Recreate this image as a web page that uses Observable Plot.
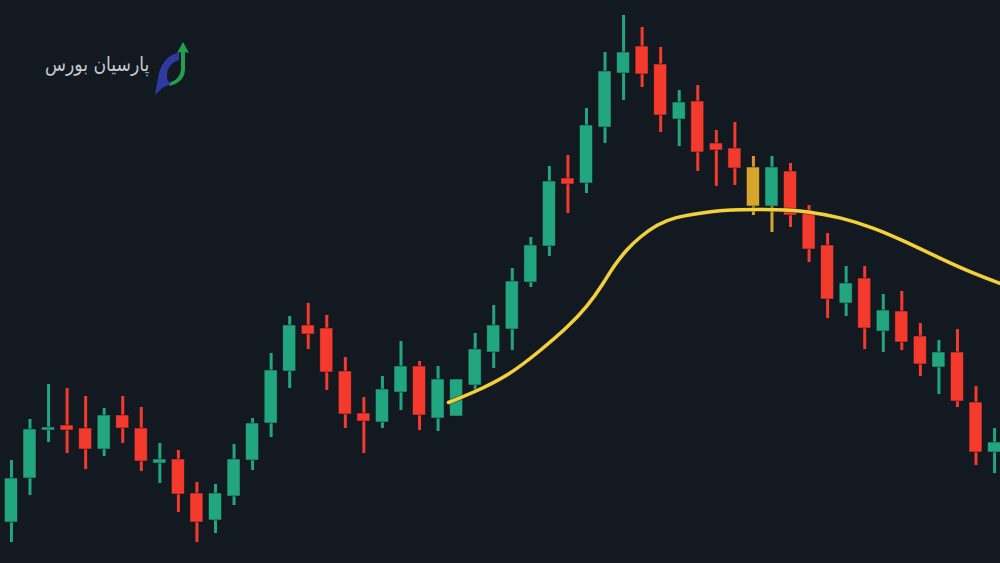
<!DOCTYPE html>
<html>
<head>
<meta charset="utf-8">
<script src="https://cdn.jsdelivr.net/npm/d3@7"></script>
<script src="https://cdn.jsdelivr.net/npm/@observablehq/plot@0.6"></script>
<style>
  html, body { margin: 0; padding: 0; background: #121920; width: 1000px; height: 563px; overflow: hidden; }
  #wrap { position: relative; width: 1000px; height: 563px; }
  #chart svg { display: block; }
  #brand { position: absolute; right: 851px; top: 52px; font-family: "DejaVu Sans", "Noto Sans", sans-serif; font-size: 20px; color: #c6c9cc; direction: rtl; white-space: nowrap; transform: scaleX(0.86); transform-origin: right center; }
  #logo { position: absolute; left: 150px; top: 38px; }
</style>
</head>
<body>
<div id="wrap">
  <div id="chart"></div>
  <div id="brand">پارسیان بورس</div>
  <svg id="logo" width="42" height="60" viewBox="0 0 42 60">
    <path d="M29 15 C18 16 10 26 8 40 L5 57 L11 51 C13 49 18 47 23 46 L18 43 C16 38 17 32 20 28 C22 25 26 23 29 22 Z" fill="#2f3aa0"/>
    <path d="M33 4 L39 15 L35 14 L35 31 C35 40 29 46 19 48 L21 44 C27 42 31 37 31 30 L31 14 L27 15 Z" fill="#1fa14f"/>
  </svg>
</div>
<script>
// Candle index (1..54)
const idx   = d3.range(1, 55);
const open  = [14.1,18.5,23.3,23.8,23.5,21.4,24.8,23.5,20.0,20.4,17.0,14.3,16.7,20.3,24.0,29.2,33.8,33.5,29.2,25.0,24.1,27.1,29.7,24.5,24.7,27.8,31.1,33.4,38.1,41.7,48.5,48.0,53.6,59.0,61.7,59.9,54.4,56.2,52.0,51.5,45.7,45.7,49.2,45.0,41.8,36.0,38.5,33.2,35.2,32.7,29.6,31.1,26.1,21.1];
const close = [18.5,23.4,23.6,23.3,21.4,24.8,23.5,20.2,20.4,16.9,14.1,17.0,20.4,24.0,29.3,33.8,32.9,29.1,24.9,24.2,27.4,29.7,24.8,28.4,28.4,31.4,33.8,38.2,41.8,48.2,47.9,53.8,59.2,61.1,58.9,54.8,56.1,51.1,51.3,49.5,49.6,49.6,44.8,41.4,36.4,38.0,33.5,35.3,32.1,29.9,31.1,26.2,21.1,22.1];
const high  = [20.3,24.4,27.9,27.5,26.7,25.5,26.7,25.6,22.0,21.3,18.1,17.9,21.9,24.5,31.0,34.7,36.0,34.8,30.6,26.6,28.7,32.2,30.2,29.7,28.4,33.0,35.8,39.5,42.6,49.7,50.8,55.5,61.1,64.8,63.6,61.6,57.3,57.8,53.3,54.1,50.7,50.7,50.0,45.8,43.0,39.7,39.7,36.9,37.2,34.0,32.3,33.4,27.7,23.5];
const low   = [12.1,16.8,22.1,21.0,19.4,20.7,22.0,19.2,18.0,15.1,12.1,13.0,15.8,19.3,22.6,27.5,31.4,27.3,23.5,21.0,23.5,25.3,23.3,23.2,24.7,27.3,29.5,31.3,37.6,40.7,45.0,47.0,52.0,56.3,57.6,53.1,51.7,49.2,47.7,47.8,44.8,43.1,43.6,40.1,34.5,34.7,31.4,31.1,31.3,28.7,26.9,25.6,19.8,19.0];
// Highlighted candles (gold)
const goldBody = [41];
const goldLowerWick = [41, 42];
const goldUpperWick = [41];

// Moving-average line (candle position, price)
const maPos   = [24.56, 25.91, 27.74, 29.52, 30.97, 32.05, 32.91, 33.45, 34.21, 34.91, 35.82, 36.69, 38.52, 40.30, 42.2, 44.07, 45.69, 47.47, 49.3, 51.08, 52.86, 54.32];
const maValue = [26.1, 27.1, 28.7, 31.3, 33.6, 35.7, 38.0, 39.7, 41.5, 42.7, 43.9, 44.6, 45.2, 45.4, 45.4, 45.2, 44.6, 43.6, 42.1, 40.5, 39.0, 38.0];

const GREEN = "#22a67f", RED = "#f4392d", GOLD = "#d6a62c", GOLDW = "#d9962a", LINE = "#f3d03e";

const candles = idx.map((i, k) => {
  const up = close[k] >= open[k];
  const base = up ? GREEN : RED;
  return {
    i, open: open[k], close: close[k], high: high[k], low: low[k],
    top: Math.max(open[k], close[k]), bot: Math.min(open[k], close[k]),
    body: goldBody.includes(i) ? GOLD : base,
    upW: goldUpperWick.includes(i) ? GOLDW : base,
    loW: goldLowerWick.includes(i) ? GOLD : base
  };
});
const ma = maPos.map((p, k) => ({p, v: maValue[k]}));

const chart = Plot.plot({
  width: 1000,
  height: 563,
  margin: 0,
  style: {background: "#121920"},
  x: {domain: [0.41, 54.32], axis: null},
  y: {domain: [10, 66.3], axis: null},
  marks: [
    Plot.ruleX(candles, {x: "i", y1: "top", y2: "high", stroke: d => d.upW, strokeWidth: 3}),
    Plot.ruleX(candles, {x: "i", y1: "low", y2: "bot", stroke: d => d.loW, strokeWidth: 3}),
    Plot.rectY(candles, {x1: d => d.i - 0.35, x2: d => d.i + 0.35, y1: "bot", y2: "top", fill: d => d.body, stroke: "#0e1419", strokeOpacity: 0.6, strokeWidth: 0.8}),
    Plot.line(ma, {x: "p", y: "v", stroke: "#2a2410", strokeWidth: 5, strokeOpacity: 0.5, curve: "basis"}),
    Plot.line(ma, {x: "p", y: "v", stroke: LINE, strokeWidth: 3.5, curve: "basis"})
  ]
});
document.getElementById("chart").appendChild(chart);
</script>
</body>
</html>
